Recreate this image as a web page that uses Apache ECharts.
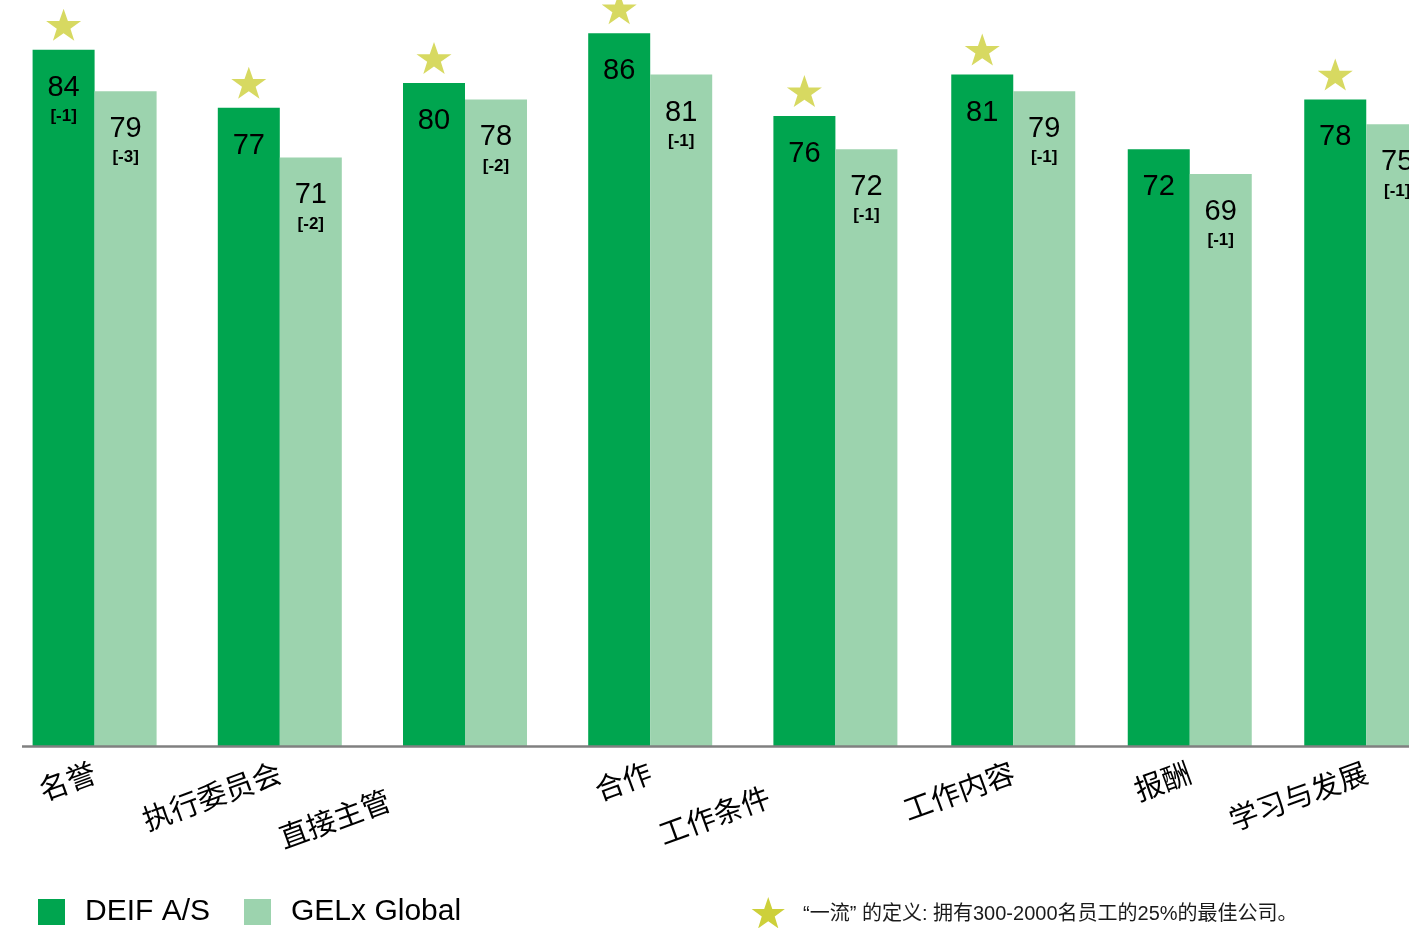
<!DOCTYPE html>
<html>
<head>
<meta charset="utf-8">
<script src="https://cdn.jsdelivr.net/npm/echarts@6/dist/echarts.min.js"></script>
<style>
  html, body { margin: 0; padding: 0; background: #ffffff; }
  #chart { width: 1409px; height: 928px; }
</style>
</head>
<body>
<div id="chart"></div>
<script>
// Engagement scores per dimension
const categories = ['名誉', '执行委员会', '直接主管', '合作', '工作条件', '工作内容', '报酬', '学习与发展'];
const seriesNames = ['DEIF A/S', 'GELx Global'];
const deifScores = [84, 77, 80, 86, 76, 81, 72, 78];
const deifChange = ['-1', null, null, null, null, null, null, null];
const globalScores = [79, 71, 78, 81, 72, 79, 69, 75];
const globalChange = ['-3', '-2', '-2', '-1', '-1', '-1', '-1', '-1'];
const topRated = [true, true, true, true, true, true, false, true];
const footnoteText = '“一流” 的定义: 拥有300-2000名员工的25%的最佳公司。';

const DEIF_GREEN = '#00a54f';
const GLOBAL_GREEN = '#9cd3ae';
const STAR_COLOR = '#cdd03a';
// five-point star outline on a 100-unit box
const STAR_PTS = [[50, 0], [61.8, 35.1], [98.1, 35.1], [68.8, 56.8], [79.4, 91], [50, 70],
                  [20.6, 91], [31.2, 56.8], [1.9, 35.1], [38.2, 35.1]];
const STAR_PATH = 'M' + STAR_PTS.map(p => p.join(',')).join(' L') + ' Z';
const CJK_FONT = '"Noto Sans CJK SC", "Noto Sans", sans-serif';
const LATIN_FONT = '"Liberation Sans", Arial, sans-serif';
const MIXED_FONT = '"Liberation Sans", "Noto Sans CJK SC", sans-serif';

// two category blocks with slightly different spacing
const blocks = [
  { from: 0, to: 5, left: 2, width: 926 },
  { from: 5, to: 8, left: 925, width: 529.5 }
];
// extra trailing room that staggers a few axis labels
const labelStagger = { '直接主管': 81, '工作条件': 71 };

function barSeries(name, color, scores, changes, idx, from, to) {
  return {
    name: name,
    type: 'bar',
    xAxisIndex: idx,
    yAxisIndex: idx,
    barWidth: 62,
    barGap: '0%',
    itemStyle: { color: color },
    data: scores.slice(from, to).map((v, i) => ({ value: v, change: changes[from + i] })),
    label: {
      show: true,
      position: 'insideTop',
      distance: 20,
      formatter: p => p.data.change ? `{n|${p.value}}\n{c|[${p.data.change}]}` : `{n|${p.value}}`,
      rich: {
        n: { fontSize: 29, lineHeight: 36, color: '#000', fontFamily: LATIN_FONT },
        c: { fontSize: 17, lineHeight: 21, fontWeight: 'bold', color: '#000', fontFamily: LATIN_FONT }
      }
    },
    z: 2
  };
}

const grids = [], xAxes = [], yAxes = [], series = [];
blocks.forEach((b, idx) => {
  grids.push({ left: b.left, width: b.width, top: 0, bottom: 182, containLabel: false, outerBoundsMode: 'none' });
  xAxes.push({
    type: 'category',
    gridIndex: idx,
    data: categories.slice(b.from, b.to).map(c => labelStagger[c]
      ? { value: c, textStyle: { padding: [0, labelStagger[c], 0, 0] } }
      : c),
    axisLine: { show: false },
    axisTick: { show: false },
    axisLabel: { interval: 0, rotate: 20, margin: 25, fontSize: 29, color: '#000', fontFamily: CJK_FONT, hideOverlap: false }
  });
  yAxes.push({ type: 'value', gridIndex: idx, min: 0, max: 90, show: false, splitLine: { show: false } });
  series.push(barSeries(seriesNames[0], DEIF_GREEN, deifScores, deifChange, idx, b.from, b.to));
  series.push(barSeries(seriesNames[1], GLOBAL_GREEN, globalScores, globalChange, idx, b.from, b.to));
  series.push({
    type: 'scatter',
    xAxisIndex: idx,
    yAxisIndex: idx,
    symbol: 'path://' + STAR_PATH,
    symbolSize: [35, 32],
    symbolOffset: [-31, -25],
    itemStyle: { color: STAR_COLOR },
    data: deifScores.slice(b.from, b.to).map((v, i) => topRated[b.from + i] ? v : '-'),
    silent: true,
    z: 3
  });
});

const chart = echarts.init(document.getElementById('chart'), null, { renderer: 'canvas' });
chart.setOption({
  animation: false,
  backgroundColor: '#ffffff',
  grid: grids,
  xAxis: xAxes,
  yAxis: yAxes,
  legend: {
    data: seriesNames,
    left: 33,
    top: 892,
    icon: 'rect',
    itemWidth: 27,
    itemHeight: 26,
    itemGap: 34,
    selectedMode: false,
    textStyle: { fontSize: 30, color: '#000', fontFamily: LATIN_FONT, padding: [0, 0, 0, 15] }
  },
  series: series
});

// footnote star + text, and a baseline across the full width at value zero
const y0 = chart.convertToPixel({ yAxisIndex: 0 }, 0);
const fx = 751, fy = 897, fs = 0.345;
chart.setOption({
  graphic: [
    {
      type: 'polygon',
      shape: { points: STAR_PTS.map(p => [fx + p[0] * fs, fy + p[1] * fs]) },
      style: { fill: STAR_COLOR },
      z: 10
    },
    {
      type: 'text',
      left: 803,
      top: 904,
      style: { text: footnoteText, fill: '#1a1a1a', font: '20px ' + MIXED_FONT },
      z: 10
    },
    {
      type: 'line',
      shape: { x1: 22, y1: y0 + 0.5, x2: 1409, y2: y0 + 0.5 },
      style: { stroke: '#808080', lineWidth: 2.5 },
      z: 20
    }
  ]
});
</script>
</body>
</html>
